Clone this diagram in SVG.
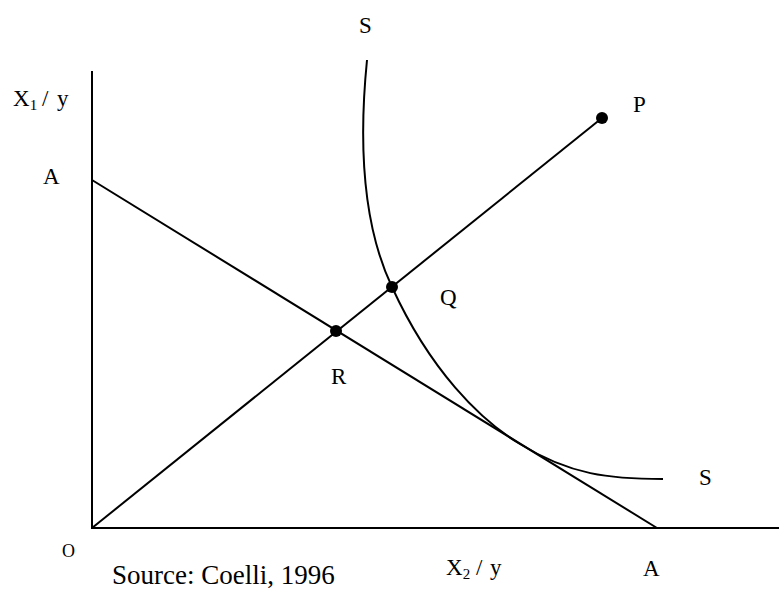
<svg xmlns="http://www.w3.org/2000/svg" width="779" height="590" viewBox="0 0 779 590">
<style>
.ln{stroke:#000;stroke-width:2;fill:none}
.pt{fill:#000}
.lb{font-family:"Liberation Serif","Times New Roman",serif;font-size:23px;fill:#000}
.sub{font-size:15px}
.src{font-size:27px}
.o{font-size:18px}
</style>
<rect width="779" height="590" fill="#fff"/>
<g id="connectors">
<line class="ln" x1="92" y1="71" x2="92" y2="529"/>
<line class="ln" x1="91" y1="528" x2="779" y2="528"/>
<line class="ln" x1="92" y1="180" x2="657" y2="528"/>
<line class="ln" x1="92" y1="528" x2="602" y2="118"/>
<path class="ln" d="M367,60 C358,150 365,230 392,287 C430,370 480,420 520,444 C570,475 610,479 663,479"/>
</g>
<g id="axis-y-label"><text class="lb" x="13" y="106">X<tspan class="sub" dy="4">1</tspan></text><text class="lb" x="42" y="106">/</text><text class="lb" x="57" y="106">y</text></g>
<g id="axis-x-label"><text class="lb" x="446" y="575">X<tspan class="sub" dy="4">2</tspan></text><text class="lb" x="476" y="575">/</text><text class="lb" x="490" y="575">y</text></g>
<g id="label-S-top"><text class="lb" x="359" y="33">S</text></g>
<g id="label-S-right"><text class="lb" x="699" y="485">S</text></g>
<g id="label-A-left"><text class="lb" x="43" y="184">A</text></g>
<g id="label-A-bottom"><text class="lb" x="643" y="576">A</text></g>
<g id="label-O"><text class="lb o" x="62" y="557">O</text></g>
<g id="node-P"><circle class="pt" cx="602" cy="118" r="6"/><text class="lb" x="633" y="112">P</text></g>
<g id="node-Q"><circle class="pt" cx="392" cy="287" r="6"/><text class="lb" x="440" y="305">Q</text></g>
<g id="node-R"><circle class="pt" cx="336" cy="331" r="6"/><text class="lb" x="331" y="384">R</text></g>
<g id="source"><text class="lb src" x="112" y="584">Source: Coelli, 1996</text></g>
</svg>
